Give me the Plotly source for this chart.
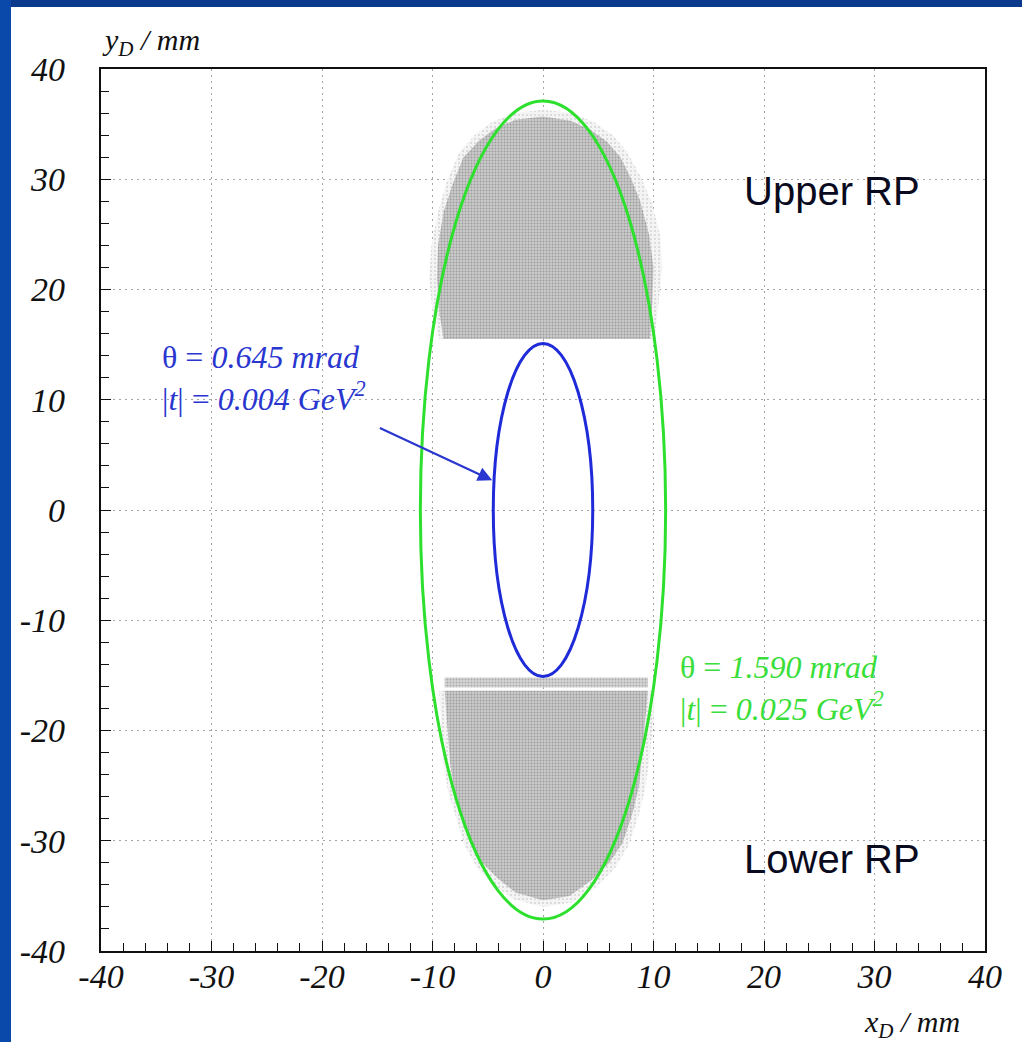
import plotly.graph_objects as go

# Scattering-angle contours at the detector (semi-axes in mm)
theta_mrad = [0.645, 1.590]
t_gev2 = [0.004, 0.025]
ellipse_ax = [4.5, 11.1]
ellipse_by = [15.1, 37.1]
ellipse_colors = ["#1f2bd8", "#2ee02e"]

# Outline of the hit distribution in the upper Roman Pot (mm)
upper_x = [-9.0, -9.4, -9.6, -9.5, -9.0, -8.2, -7.2, -5.8, -4.3, -2.5, 0.0,
           2.5, 4.3, 5.8, 7.0, 8.0, 8.8, 9.6, 10.0, 9.9, 9.7]
upper_y = [15.5, 18.0, 21.0, 24.0, 27.0, 29.5, 32.0, 33.5, 34.6, 35.4, 35.7,
           35.3, 34.5, 33.4, 32.0, 30.0, 28.0, 25.0, 22.0, 19.0, 15.5]
# Sparse fringe around the upper distribution
upper_fringe_x = [-9.4, -10.0, -10.3, -10.1, -9.5, -8.7, -7.6, -6.2, -4.6, -2.6, 0.0,
                  2.6, 4.6, 6.3, 7.6, 8.8, 9.8, 10.6, 10.8, 10.5, 10.1]
upper_fringe_y = [15.5, 18.0, 21.0, 24.0, 27.0, 29.8, 32.4, 34.0, 35.2, 36.0, 36.3,
                  36.0, 35.2, 34.0, 32.5, 30.3, 28.0, 25.0, 22.0, 19.0, 15.5]

# Outline of the hit distribution in the lower Roman Pot (mm)
lower_x = [-8.9, -8.6, -8.4, -8.0, -7.5, -6.6, -5.5, -4.2, -2.5, 0.0,
           2.4, 4.5, 6.0, 7.2, 8.1, 8.7, 9.0, 9.3, 9.5]
lower_y = [-16.4, -20.0, -23.0, -25.5, -27.5, -30.2, -32.0, -33.3, -34.7, -35.4,
           -35.0, -33.5, -32.0, -30.2, -27.5, -25.0, -22.0, -19.0, -16.4]
lower_fringe_x = [-9.4, -9.2, -9.0, -8.6, -8.0, -7.1, -6.0, -4.6, -2.7, 0.0,
                  2.6, 4.9, 6.5, 7.7, 8.7, 9.3, 9.7, 10.0, 10.1]
lower_fringe_y = [-16.4, -20.0, -23.0, -25.5, -27.5, -30.4, -32.4, -33.9, -35.3, -36.0,
                  -35.6, -34.1, -32.5, -30.5, -27.6, -25.0, -22.0, -19.0, -16.4]
# Thin edge band of the lower pot
band_x = [-8.9, 9.5, 9.5, -8.9]
band_y = [-15.2, -15.2, -16.1, -16.1]

tick_vals = [-40, -30, -20, -10, 0, 10, 20, 30, 40]
tick_text = ["-40", "-30", "-20", "-10", "0", "10", "20", "30", "40"]

# Plot-area placement in pixels (for items drawn outside the axes)
W, H = 1022, 1042
PL, PR, PT, PB = 101, 985, 69, 951


def px(p):
    return (p - PL) / (PR - PL)


def py(p):
    return (PB - p) / (PB - PT)


fig = go.Figure()


def add_cloud(xs, ys, bg, fg, solidity, size):
    fig.add_trace(go.Scatter(
        x=xs + [xs[0]], y=ys + [ys[0]], mode="lines", fill="toself",
        line=dict(width=0, color=bg), fillcolor=bg,
        fillpattern=dict(shape=".", bgcolor=bg, fgcolor=fg,
                         size=size, solidity=solidity),
        hoverinfo="skip", showlegend=False))


add_cloud(upper_fringe_x, upper_fringe_y, "#f4f4f4", "#b4b4b4", 0.2, 4)
add_cloud(lower_fringe_x, lower_fringe_y, "#f4f4f4", "#b4b4b4", 0.2, 4)
add_cloud(upper_x, upper_y, "#cacaca", "#6e6e6e", 0.35, 3)
add_cloud(lower_x, lower_y, "#cacaca", "#6e6e6e", 0.35, 3)
add_cloud(band_x, band_y, "#d6d6d6", "#7a7a7a", 0.3, 3)

# Constant-theta ellipses
for a, b, c in zip(ellipse_ax, ellipse_by, ellipse_colors):
    fig.add_shape(type="circle", xref="x", yref="y", x0=-a, x1=a, y0=-b, y1=b,
                  line=dict(color=c, width=3))

serif = "Liberation Serif"

# Labels for the two contours
fig.add_annotation(
    x=-34.7, y=12.0, xref="x", yref="y", xanchor="left", yanchor="middle",
    align="left", showarrow=False,
    text=f"θ = <i>{theta_mrad[0]:.3f} mrad</i><br>|<i>t</i>| = <i>{t_gev2[0]:.3f} GeV<sup>2</sup></i>",
    font=dict(family=serif, size=32, color="#2a36d0"))
fig.add_annotation(
    x=12.2, y=-16.1, xref="x", yref="y", xanchor="left", yanchor="middle",
    align="left", showarrow=False,
    text=f"θ = <i>{theta_mrad[1]:.3f} mrad</i><br>|<i>t</i>| = <i>{t_gev2[1]:.3f} GeV<sup>2</sup></i>",
    font=dict(family=serif, size=32, color="#3ade3a"))

# Pointer to the inner contour
fig.add_annotation(
    x=-4.6, y=2.7, ax=-14.9, ay=7.5, xref="x", yref="y", axref="x", ayref="y",
    text="", showarrow=True, arrowhead=2, arrowsize=1.3, arrowwidth=2.2,
    arrowcolor="#2a36d0")

# Detector labels
for label, yv in [("Upper RP", 28.9), ("Lower RP", -31.7)]:
    fig.add_annotation(x=18.0, y=yv, xref="x", yref="y", xanchor="left",
                       yanchor="middle", showarrow=False, text=label,
                       font=dict(family="Liberation Sans", size=40, color="#0a0a1e"))

# Axis titles
fig.add_annotation(x=px(100), y=py(42), xref="paper", yref="paper",
                   xanchor="left", yanchor="middle", showarrow=False,
                   text="<i>y<sub>D</sub> / mm</i>",
                   font=dict(family=serif, size=30, color="#111"))
fig.add_annotation(x=px(962), y=py(1024), xref="paper", yref="paper",
                   xanchor="right", yanchor="middle", showarrow=False,
                   text="<i>x<sub>D</sub> / mm</i>",
                   font=dict(family=serif, size=30, color="#111"))

# Slide frame strips
fig.add_shape(type="rect", xref="paper", yref="paper", x0=px(0), x1=px(W),
              y0=py(7), y1=py(0), line=dict(width=0), fillcolor="#0b3a8c")
fig.add_shape(type="rect", xref="paper", yref="paper", x0=px(0), x1=px(11),
              y0=py(H), y1=py(0), line=dict(width=0), fillcolor="#0a48aa")

axis_common = dict(
    range=[-40, 40], tickvals=tick_vals, ticktext=tick_text, ticks="inside",
    ticklen=10, tickwidth=1.2, tickcolor="#111", showline=True, linewidth=2.4,
    linecolor="#111", mirror=True, showgrid=True, gridcolor="#a4a4a4",
    griddash="2px,4px", gridwidth=1.2, zeroline=False,
    minor=dict(ticks="inside", dtick=2, ticklen=8, tickwidth=1,
               tickcolor="#111", showgrid=False),
    tickfont=dict(family=serif, size=34, color="#111", style="italic"),
)

fig.update_xaxes(**axis_common, ticklabelstandoff=-6)
fig.update_yaxes(**axis_common, ticklabelstandoff=27)

fig.update_layout(
    width=W, height=H,
    margin=dict(l=PL, r=W - PR, t=PT, b=H - PB, autoexpand=False),
    paper_bgcolor="white", plot_bgcolor="white",
    showlegend=False,
)

fig.write_html("out.html")
